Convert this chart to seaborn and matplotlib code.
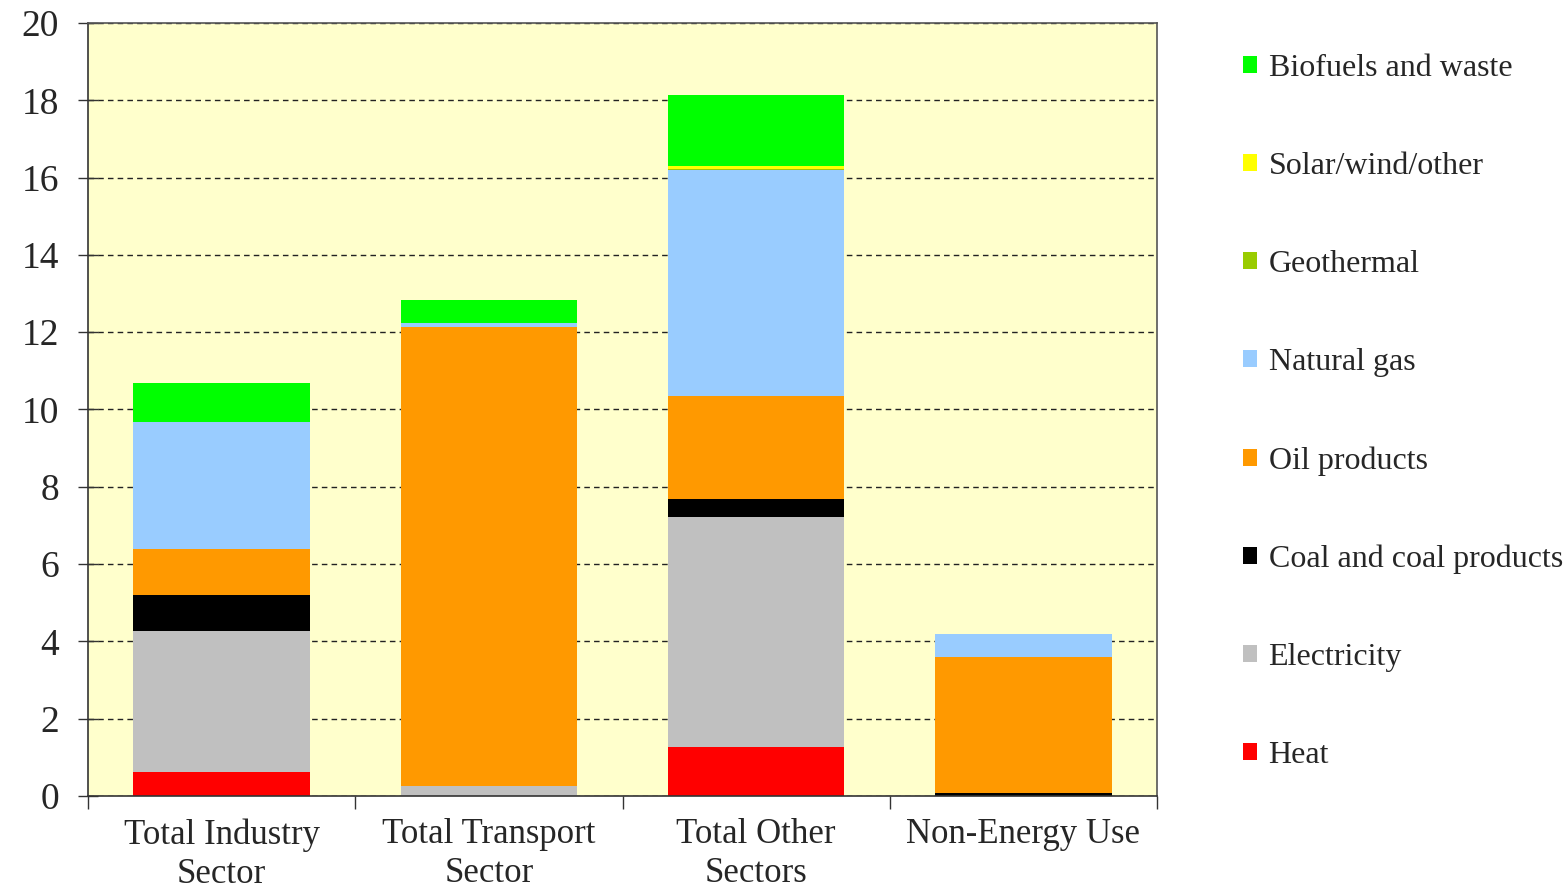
import numpy as np
import pandas as pd
import matplotlib
matplotlib.use('Agg')
from matplotlib import pyplot as plt
from matplotlib.patches import Patch
from matplotlib.ticker import FixedLocator
import seaborn as sns


sectors = ['Total Industry\nSector', 'Total Transport\nSector',
           'Total Other\nSectors', 'Non-Energy Use']
fuels = ['Heat', 'Electricity', 'Coal and coal products', 'Oil products',
         'Natural gas', 'Geothermal', 'Solar/wind/other', 'Biofuels and waste']

heat = [0.62, 0.0, 1.27, 0.0]
electricity = [3.65, 0.26, 5.95, 0.0]
coal = [0.93, 0.0, 0.46, 0.08]
oil = [1.19, 11.87, 2.67, 3.52]
gas = [3.29, 0.11, 5.85, 0.59]
geothermal = [0.0, 0.0, 0.02, 0.0]
solar = [0.0, 0.0, 0.08, 0.0]
biofuels = [1.01, 0.59, 1.83, 0.0]

colors = {'Heat': '#FF0000', 'Electricity': '#C0C0C0',
          'Coal and coal products': '#000000', 'Oil products': '#FF9900',
          'Natural gas': '#99CCFF', 'Geothermal': '#99CC00',
          'Solar/wind/other': '#FFFF00', 'Biofuels and waste': '#00FF00'}


if __name__ == '__main__':

    df = pd.DataFrame({'sector': sectors, 'Heat': heat,
                       'Electricity': electricity,
                       'Coal and coal products': coal,
                       'Oil products': oil, 'Natural gas': gas,
                       'Geothermal': geothermal,
                       'Solar/wind/other': solar,
                       'Biofuels and waste': biofuels})

    sns.set_style('white')
    plt.rcParams['font.family'] = ['Liberation Serif', 'DejaVu Serif']

    fig = plt.figure(figsize=(15.68, 8.88), dpi=100)
    ax = fig.add_axes([88 / 1568, 1 - 796 / 888,
                       (1157 - 88) / 1568, (796 - 23) / 888])
    ax.set_facecolor('#FFFFCC')

    # stack the fuels bar by bar
    bottom = np.zeros(len(sectors))
    for fuel in fuels:
        sns.barplot(data=df, x='sector', y=fuel, color=colors[fuel],
                    saturation=1, width=0.66, bottom=bottom.copy(),
                    linewidth=0, ax=ax)
        bottom += df[fuel].values

    ax.set_ylim(0, 20)
    ax.set_xlim(-0.5, 3.5)
    ax.set_yticks(np.arange(0, 21, 2))
    ax.yaxis.grid(True, linestyle=(0, (4, 3)), color='#222222', linewidth=1)
    ax.set_axisbelow(True)
    ax.set_xlabel('')
    ax.set_ylabel('')

    for side in ['left', 'bottom', 'top', 'right']:
        ax.spines[side].set_visible(True)
        ax.spines[side].set_color('#555555')
        ax.spines[side].set_linewidth(1.2)
    ax.spines['left'].set_color('#333333')
    ax.spines['bottom'].set_color('#333333')

    ax.tick_params(axis='y', direction='inout', length=14, width=1,
                   color='#333333', labelsize=27, pad=14, left=True)
    ax.tick_params(axis='x', which='major', length=0, labelsize=25,
                   pad=16)
    ax.xaxis.set_minor_locator(FixedLocator([-0.5, 0.5, 1.5, 2.5, 3.5]))
    ax.tick_params(axis='x', which='minor', direction='out', length=9,
                   width=1, color='#333333', bottom=True)
    for lab in ax.get_xticklabels():
        lab.set_linespacing(1.25)

    handles = [Patch(facecolor=colors[f], edgecolor='none', label=f)
               for f in fuels[::-1]]
    ax.legend(handles=handles, loc='upper left',
              bbox_to_anchor=(1243 / 1568, 1 - 54 / 888),
              bbox_transform=fig.transFigure, frameon=False,
              fontsize=23, handlelength=0.45, handleheight=0.45,
              handletextpad=0.35, labelspacing=2.16, borderaxespad=0,
              borderpad=0)

    plt.savefig('out.png', dpi=100)
